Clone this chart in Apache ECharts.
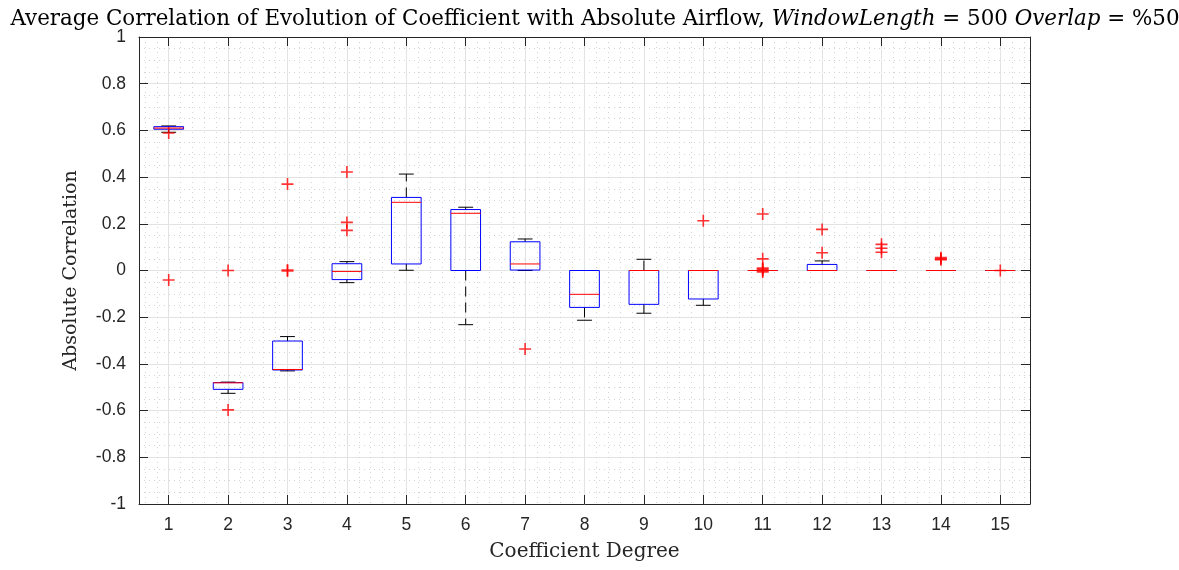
<!DOCTYPE html>
<html>
<head>
<meta charset="utf-8">
<script src="https://cdn.jsdelivr.net/npm/echarts@6/dist/echarts.min.js"></script>
<style>html,body{margin:0;padding:0;background:#fff;}#c{width:1179px;height:570px;}</style>
</head>
<body>
<div id="c"></div>
<script>
// Coefficient degrees (categories)
const categories = [1, 2, 3, 4, 5, 6, 7, 8, 9, 10, 11, 12, 13, 14, 15];
// Box statistics per degree
const whiskerLow  = [0.592, -0.526, -0.430, -0.052, 0.001, -0.232, 0.000, -0.213, -0.183, -0.149, 0, 0.000, 0, 0, 0];
const quartile1   = [0.605, -0.509, -0.426, -0.039, 0.028,  0.000, 0.002, -0.158, -0.145, -0.122, 0, 0.000, 0, 0, 0];
const medians     = [0.610, -0.481, -0.424, -0.004, 0.292,  0.245, 0.028, -0.102,  0.000,  0.000, 0, 0.000, 0, 0, 0];
const quartile3   = [0.616, -0.480, -0.302,  0.029, 0.313,  0.261, 0.123,  0.000,  0.000,  0.000, 0, 0.026, 0, 0, 0];
const whiskerHigh = [0.619, -0.478, -0.283,  0.038, 0.413,  0.271, 0.135,  0.000,  0.048,  0.000, 0, 0.041, 0, 0, 0];
// Outliers: [degree, value]
const outlierDegree = [1, 1, 2, 2, 3, 3, 3, 4, 4, 4, 7, 10, 11, 11, 11, 11, 11, 11, 12, 12, 13, 13, 13, 14, 14, 14, 15];
const outlierValue  = [0.589, -0.041, 0.0, -0.597, 0.370, 0.002, -0.002, 0.422, 0.206, 0.172, -0.336, 0.213,
                       0.242, 0.050, 0.010, 0.004, 0.0, -0.006, 0.176, 0.076, 0.112, 0.095, 0.078, 0.055, 0.050, 0.046, 0.0];
// Y tick labels
const yTicks = { min: -1, max: 1, step: 0.2 };

const boxData = categories.map((c, i) => [c, whiskerLow[i], quartile1[i], medians[i], quartile3[i], whiskerHigh[i]]);
const outlierData = outlierDegree.map((d, i) => [d, outlierValue[i]]);

const axisColor = '#262626';
const sansFont = 'Liberation Sans';
const serifFont = 'DejaVu Serif';
const minorStyle = { color: '#d4d4d4', width: 1, type: [1, 4] };
const majorStyle = { color: '#e3e3e3', width: 1 };

function xAxisCfg(pos) {
  return {
    type: 'value', position: pos, min: 0.5, max: 15.5, splitNumber: 15, minInterval: 1, maxInterval: 1,
    axisLine: { show: true, onZero: false, lineStyle: { color: axisColor, width: 1 } },
    axisTick: { show: true, inside: true, length: 9, lineStyle: { color: axisColor } },
    axisLabel: pos === 'bottom' ? {
      show: true, margin: 12, color: '#262626', fontFamily: sansFont, fontSize: 17.5,
      showMinLabel: false, showMaxLabel: false,
      formatter: v => (Number.isInteger(v) ? String(v) : '')
    } : { show: false },
    splitLine: { show: pos === 'bottom', lineStyle: majorStyle },
    minorTick: { show: false, splitNumber: 5 },
    minorSplitLine: { show: pos === 'bottom', lineStyle: minorStyle },
    name: pos === 'bottom' ? 'Coefficient Degree' : '',
    nameLocation: 'middle', nameGap: 38,
    nameTextStyle: { fontFamily: serifFont, fontSize: 20, color: '#262626' }
  };
}
function yAxisCfg(pos) {
  return {
    type: 'value', position: pos, min: yTicks.min, max: yTicks.max, interval: yTicks.step,
    axisLine: { show: true, onZero: false, lineStyle: { color: axisColor, width: 1 } },
    axisTick: { show: true, inside: true, length: 9, lineStyle: { color: axisColor } },
    axisLabel: pos === 'left' ? {
      show: true, margin: 13, color: '#262626', fontFamily: sansFont, fontSize: 17.5,
      formatter: v => String(Math.round(v * 10) / 10)
    } : { show: false },
    splitLine: { show: pos === 'left', lineStyle: majorStyle },
    minorTick: { show: false, splitNumber: 4 },
    minorSplitLine: { show: pos === 'left', lineStyle: minorStyle },
    name: pos === 'left' ? 'Absolute Correlation' : '',
    nameLocation: 'middle', nameGap: 58,
    nameTextStyle: { fontFamily: serifFont, fontSize: 19, color: '#262626' }
  };
}

const chart = echarts.init(document.getElementById('c'), null, { renderer: 'canvas' });
chart.setOption({
  backgroundColor: '#ffffff',
  animation: false,
  title: {
    left: 590, textAlign: 'center', top: 4,
    text: '{n|Average Correlation of Evolution of Coefficient with Absolute Airflow, }{i|WindowLength}{n| = 500 }{i|Overlap}{n| = %50}',
    textStyle: {
      fontWeight: 'normal',
      rich: {
        n: { fontFamily: serifFont, fontSize: 21.4, fontWeight: 'normal', color: '#000' },
        i: { fontFamily: serifFont, fontSize: 21.4, fontWeight: 'normal', fontStyle: 'italic', color: '#000' }
      }
    }
  },
  grid: { left: 139, right: 149, top: 37, bottom: 66, containLabel: false },
  xAxis: [xAxisCfg('bottom'), xAxisCfg('top')],
  yAxis: [yAxisCfg('left'), yAxisCfg('right')],
  series: [
    {
      type: 'custom',
      data: boxData,
      encode: { x: 0, y: [1, 2, 3, 4, 5] },
      z: 3,
      renderItem: function (params, api) {
        const x = api.value(0);
        const lo = api.value(1), q1 = api.value(2), md = api.value(3), q3 = api.value(4), hi = api.value(5);
        const halfBox = api.size([0.25, 0])[0];
        const halfCap = api.size([0.125, 0])[0];
        const pLo = api.coord([x, lo]), pQ1 = api.coord([x, q1]), pMd = api.coord([x, md]);
        const pQ3 = api.coord([x, q3]), pHi = api.coord([x, hi]);
        const cx = pMd[0];
        const black = { stroke: '#000', lineWidth: 1 };
        return {
          type: 'group',
          children: [
            { type: 'line', shape: { x1: cx, y1: pQ3[1], x2: cx, y2: pHi[1] }, style: { stroke: '#000', lineWidth: 1, lineDash: [10, 6] } },
            { type: 'line', shape: { x1: cx, y1: pQ1[1], x2: cx, y2: pLo[1] }, style: { stroke: '#000', lineWidth: 1, lineDash: [10, 6] } },
            { type: 'line', shape: { x1: cx - halfCap, y1: pHi[1], x2: cx + halfCap, y2: pHi[1] }, style: black },
            { type: 'line', shape: { x1: cx - halfCap, y1: pLo[1], x2: cx + halfCap, y2: pLo[1] }, style: black },
            { type: 'rect', shape: { x: cx - halfBox, y: pQ3[1], width: 2 * halfBox, height: pQ1[1] - pQ3[1] }, style: { fill: 'none', stroke: '#0000ff', lineWidth: 1 } },
            { type: 'line', shape: { x1: cx - halfBox, y1: pMd[1], x2: cx + halfBox, y2: pMd[1] }, style: { stroke: '#ff0000', lineWidth: 1 } }
          ]
        };
      }
    },
    {
      type: 'scatter',
      data: outlierData,
      z: 4,
      symbol: 'path://M-0.8,-6H0.8V-0.8H6V0.8H0.8V6H-0.8V0.8H-6V-0.8H-0.8Z',
      symbolSize: 12,
      itemStyle: { color: '#ff0000' }
    }
  ]
});
</script>
</body>
</html>
